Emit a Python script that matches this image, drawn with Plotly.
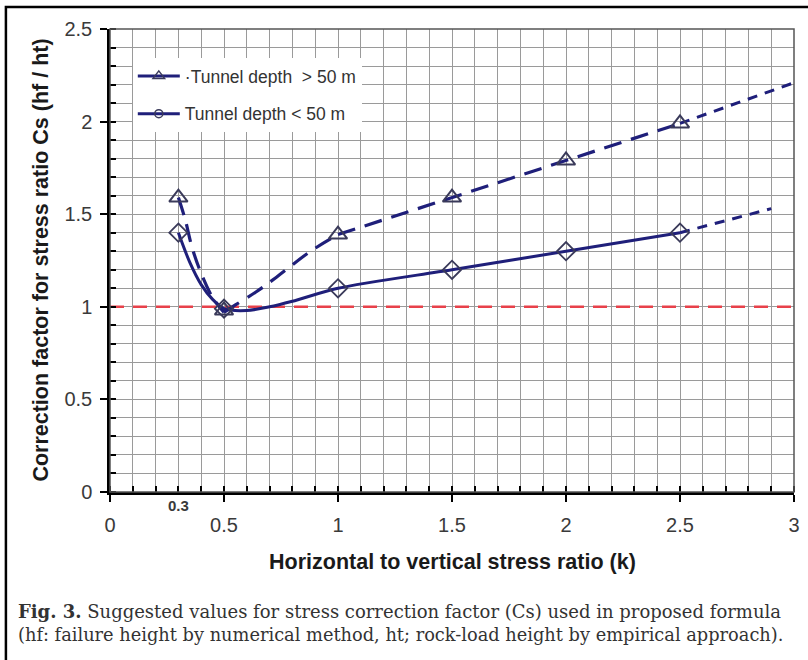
import plotly.graph_objects as go

# ---- data ----
k_deep = [0.3, 0.5, 1.0, 1.5, 2.0, 2.5]
cs_deep = [1.59, 0.98, 1.39, 1.59, 1.79, 1.99]
k_shallow = [0.3, 0.5, 1.0, 1.5, 2.0, 2.5]
cs_shallow = [1.4, 0.99, 1.1, 1.2, 1.3, 1.4]

deep_drop_k = [0.3, 0.33, 0.36, 0.4, 0.45, 0.5]
deep_drop_cs = [1.59, 1.47, 1.32, 1.18, 1.05, 0.97]
deep_rise_k = [0.5, 0.55, 0.64, 0.73, 0.88, 1.0]
deep_rise_cs = [0.97, 1.01, 1.08, 1.16, 1.30, 1.39]
deep_lin_k = [1.0, 1.5, 2.0, 2.5]
deep_lin_cs = [1.39, 1.59, 1.79, 1.99]
deep_ext_k = [2.5, 3.0]
deep_ext_cs = [1.99, 2.21]

shallow_k = [0.3, 0.35, 0.4, 0.45, 0.5, 0.6, 0.7, 0.8, 1.0, 1.5, 2.0, 2.5]
shallow_cs = [1.4, 1.24, 1.12, 1.04, 0.99, 0.98, 1.0, 1.03, 1.1, 1.2, 1.3, 1.4]
shallow_ext_k = [2.5, 2.9]
shallow_ext_cs = [1.4, 1.53]

ref_k = [0, 3]
ref_cs = [1, 1]

x_ticks = [0, 0.5, 1, 1.5, 2, 2.5, 3]
x_tick_text = ["0", "0.5", "1", "1.5", "2", "2.5", "3"]
y_ticks = [0, 0.5, 1, 1.5, 2, 2.5]
y_tick_text = ["0", "0.5", "1", "1.5", "2", "2.5"]

name_deep = "\u00b7Tunnel depth  > 50 m"
name_shallow = "Tunnel depth < 50 m"
x_title = "Horizontal to vertical stress ratio (k)"
y_title = "Correction factor for stress ratio Cs (hf / ht)"
caption1 = "<b>Fig. 3.</b> Suggested values for stress correction factor (Cs) used in proposed formula"
caption2 = "(hf: failure height by numerical method, ht; rock-load height by empirical approach)."

NAVY = "#1f1f7a"
RED = "#e8414a"
MK = "#3a3a5a"

fig = go.Figure()

# red reference line
fig.add_trace(go.Scatter(x=ref_k, y=ref_cs, mode="lines",
                         line=dict(color=RED, width=2.5, dash="14px,9px"),
                         showlegend=False, hoverinfo="skip"))

# deep tunnels (dashed)
for xs, ys, sh in [(deep_drop_k, deep_drop_cs, "spline"),
                   (deep_rise_k, deep_rise_cs, "spline"),
                   (deep_lin_k, deep_lin_cs, "linear")]:
    fig.add_trace(go.Scatter(x=xs, y=ys, mode="lines", line_shape=sh,
                             line=dict(color=NAVY, width=3.2, dash="18px,10px"),
                             showlegend=False, hoverinfo="skip"))
fig.add_trace(go.Scatter(x=deep_ext_k, y=deep_ext_cs, mode="lines",
                         line=dict(color=NAVY, width=3, dash="10px,8px"),
                         showlegend=False, hoverinfo="skip"))

# shallow tunnels (solid)
fig.add_trace(go.Scatter(x=shallow_k, y=shallow_cs, mode="lines", line_shape="spline",
                         line=dict(color=NAVY, width=3, smoothing=0.8),
                         showlegend=False, hoverinfo="skip"))
fig.add_trace(go.Scatter(x=shallow_ext_k, y=shallow_ext_cs, mode="lines",
                         line=dict(color=NAVY, width=3, dash="10px,8px"),
                         showlegend=False, hoverinfo="skip"))

# markers
fig.add_trace(go.Scatter(x=k_deep, y=cs_deep, mode="markers",
                         marker=dict(symbol="triangle-up-open", size=16, color=MK,
                                     line=dict(color=MK, width=2)),
                         showlegend=False))
fig.add_trace(go.Scatter(x=k_shallow, y=cs_shallow, mode="markers",
                         marker=dict(symbol="diamond-open", size=14, color=MK,
                                     line=dict(color=MK, width=1.8)),
                         showlegend=False))

# legend entries
fig.add_trace(go.Scatter(x=[None], y=[None], mode="lines+markers", name=name_deep,
                         legendgroup="a",
                         line=dict(color=NAVY, width=3),
                         marker=dict(symbol="triangle-up-open", size=10, color=MK,
                                     line=dict(color=MK, width=1.5))))
fig.add_trace(go.Scatter(x=[None], y=[None], mode="lines+markers", name=name_shallow,
                         legendgroup="b",
                         line=dict(color=NAVY, width=3),
                         marker=dict(symbol="circle-open", size=8, color=MK,
                                     line=dict(color=MK, width=1.5))))

W, H = 808, 660
L, R, T, B = 110, 8, 29, 168
pw, ph = W - L - R, H - T - B


def px_x(p):
    return (p - L) / pw


def px_y(p):
    return (H - B - p) / ph


axis_common = dict(showgrid=True, gridcolor="#9a9a9a", gridwidth=1,
                   showline=True, linecolor="black", linewidth=2.5,
                   ticks="outside", ticklen=7, tickwidth=2, tickcolor="black",
                   tickfont=dict(family="Liberation Sans, Arial", size=20, color="#3a3a3a"),
                   zeroline=False, mirror=False)

fig.update_xaxes(range=[0, 3], tickvals=x_ticks, ticktext=x_tick_text,
                 ticklabelstandoff=6,
                 minor=dict(dtick=0.1, showgrid=True, gridcolor="#9a9a9a", gridwidth=1,
                            ticks="inside", ticklen=6, tickcolor="black", tickwidth=1.5),
                 **axis_common)
fig.update_yaxes(range=[0, 2.5], tickvals=y_ticks, ticktext=y_tick_text,
                 ticklabelstandoff=4,
                 minor=dict(dtick=0.1, showgrid=True, gridcolor="#9a9a9a", gridwidth=1,
                            ticks="inside", ticklen=6, tickcolor="black", tickwidth=1.5),
                 **axis_common)

annotations = [
    dict(text="<b>" + x_title + "</b>", x=px_x(455), y=px_y(562), xref="paper", yref="paper",
         showarrow=False, font=dict(family="Liberation Sans, Arial", size=21.5, color="#1a1a1a"),
         xanchor="center", yanchor="middle"),
    dict(text="<b>" + y_title + "</b>", x=px_x(40), y=px_y(260), xref="paper", yref="paper",
         showarrow=False, textangle=-90,
         font=dict(family="Liberation Sans, Arial", size=21.5, color="#1a1a1a"),
         xanchor="center", yanchor="middle"),
    dict(text="<b>0.3</b>", x=0.3, y=px_y(505), xref="x", yref="paper",
         showarrow=False, font=dict(family="Liberation Sans, Arial", size=15, color="#3a3a3a"),
         xanchor="center", yanchor="middle"),
    dict(text=caption1, x=px_x(15), y=px_y(611), xref="paper", yref="paper",
         showarrow=False, font=dict(family="DejaVu Serif", size=18, color="#333333"),
         xanchor="left", yanchor="middle"),
    dict(text=caption2, x=px_x(15), y=px_y(634), xref="paper", yref="paper",
         showarrow=False, font=dict(family="DejaVu Serif", size=17.8, color="#333333"),
         xanchor="left", yanchor="middle"),
]

shapes = [
    # plot frame (top/right)
    dict(type="rect", xref="paper", yref="paper", x0=0, x1=1, y0=0, y1=1,
         line=dict(color="#555555", width=1.5), layer="above"),
    # outer picture border
    dict(type="rect", xref="paper", yref="paper",
         x0=px_x(5), x1=px_x(830), y0=px_y(690), y1=px_y(7),
         line=dict(color="black", width=2.5), layer="above"),
]

fig.update_layout(
    width=W, height=H,
    margin=dict(l=L, r=R, t=T, b=B),
    plot_bgcolor="white", paper_bgcolor="white",
    annotations=annotations, shapes=shapes,
    legend=dict(x=px_x(133), y=px_y(58), xanchor="left", yanchor="top",
                bgcolor="white", borderwidth=0, traceorder="grouped",
                tracegroupgap=12, itemwidth=42,
                font=dict(family="Liberation Sans, Arial", size=17.5, color="#333333")),
)

fig.write_html("out.html")
